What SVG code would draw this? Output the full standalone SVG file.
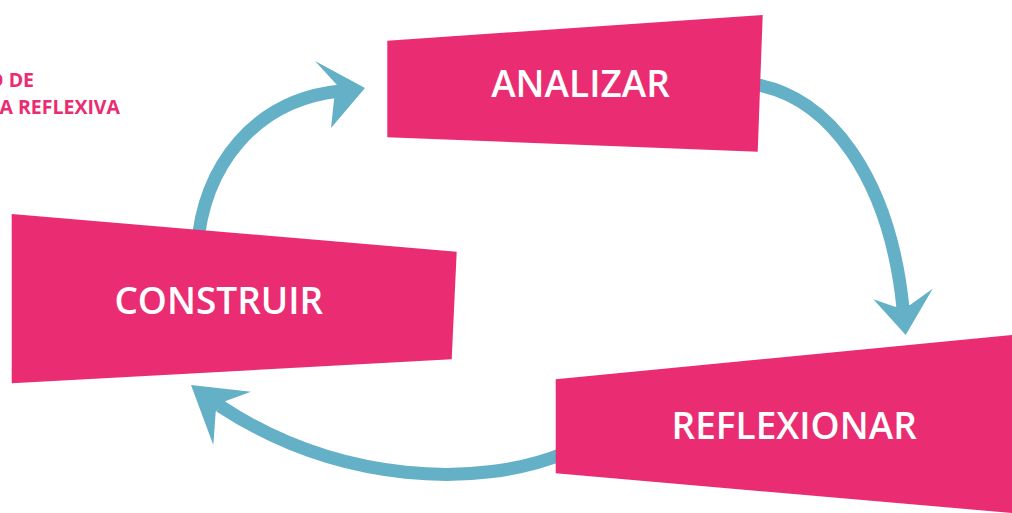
<svg xmlns="http://www.w3.org/2000/svg" width="1012" height="513" viewBox="0 0 1012 513">
<style>
.box{fill:#EA2C72}
.lbl{font-family:"Open Sans","Liberation Sans",sans-serif;font-weight:600;font-size:37px;fill:#FFFFFF;text-anchor:middle}
.title{font-family:"Open Sans","Liberation Sans",sans-serif;font-weight:700;font-size:19.5px;fill:#EA2C72;text-anchor:end}
.shaft{fill:none;stroke:#64B0C6;stroke-width:13}
.head{fill:#64B0C6}
</style>
<rect width="1012" height="513" fill="#FFFFFF"/>
<g id="title">
<text class="title" x="34" y="86.5">O DE</text>
<text class="title" x="120" y="113.5">A REFLEXIVA</text>
</g>
<g id="connectors">
<path class="shaft" d="M197,250 C203,165 255,100 340,91"/>
<polygon class="head" points="365,88 315,61 337,85 334,100 331,128"/>
<path class="shaft" d="M752,84 C830,95 890,180 903,308"/>
<polygon class="head" points="905.7,335 873.3,299.3 895,306.7 910,305 932.7,288.7"/>
<path class="shaft" d="M565,453 C480,488 340,485 220,406"/>
<polygon class="head" points="191,385 251,391.7 225.7,401 215.7,411.7 213.3,445"/>
</g>
<g id="analizar">
<polygon class="box" points="387.3,40.7 762.7,15 757.7,151.7 387.3,137.3"/>
<text class="lbl" x="580.5" y="97">ANALIZAR</text>
</g>
<g id="construir">
<polygon class="box" points="11.7,214 456.7,251.7 451.7,359.3 11.7,383.3"/>
<text class="lbl" x="218.8" y="314">CONSTRUIR</text>
</g>
<g id="reflexionar">
<polygon class="box" points="555.7,379.3 1012,335 1012,513 555.7,473.3"/>
<text class="lbl" x="794.2" y="439">REFLEXIONAR</text>
</g>
</svg>
